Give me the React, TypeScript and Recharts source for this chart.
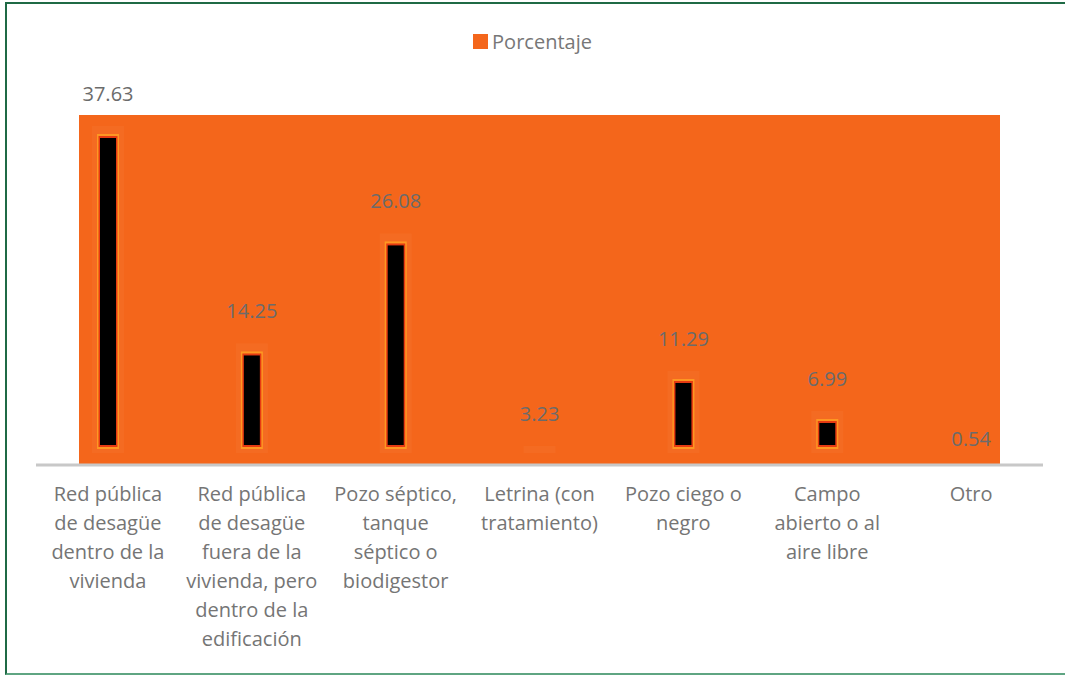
import React from 'react';
import { BarChart, Bar, XAxis, YAxis, LabelList, Legend } from 'recharts';

const categories = [
  'Red pública\nde desagüe\ndentro de la\nvivienda',
  'Red pública\nde desagüe\nfuera de la\nvivienda, pero\ndentro de la\nedificación',
  'Pozo séptico,\ntanque\nséptico o\nbiodigestor',
  'Letrina (con\ntratamiento)',
  'Pozo ciego o\nnegro',
  'Campo\nabierto o al\naire libre',
  'Otro',
];
const porcentaje = [37.63, 14.25, 26.08, 3.23, 11.29, 6.99, 0.54];

const data = categories.map((name, i) => ({ name, value: porcentaje[i] }));

const FONT = '"Open Sans", sans-serif';
const ORANGE = '#f4661b';

// bar drawn as a black core with a red/yellow halo, inset from the bar box
const GlowBar = (props: any) => {
  const { x, y, width, height } = props;
  const cx = x + width / 2;
  const bottom = y + height;
  const layer = (half: number, top: number, bot: number, fill: string, op = 1) => {
    const h = bottom - bot - (y + top);
    if (h <= 0) return null;
    return <rect x={cx - half} y={y + top} width={half * 2} height={h} fill={fill} fillOpacity={op} />;
  };
  return (
    <g>
      {layer(16, 11, 12, '#f7843f', 0.2)}
      {layer(11, 19, 16, '#ff9c22', 0.9)}
      {layer(9.5, 21, 18, '#e63a12')}
      {layer(8, 23, 20, '#000000')}
    </g>
  );
};

const CategoryTick = ({ x, y, payload }: any) => {
  const lines = String(payload.value).split('\n');
  return (
    <text x={x} y={y} textAnchor="middle" fill="#757575" fontSize={20} fontFamily={FONT}>
      {lines.map((l, i) => (
        <tspan key={i} x={x} dy={i === 0 ? 28 : 29}>{l}</tspan>
      ))}
    </text>
  );
};

const LegendContent = () => (
  <div style={{ display: 'flex', justifyContent: 'center', alignItems: 'center', fontFamily: FONT, fontSize: 20, color: '#777' }}>
    <span style={{ width: 15, height: 15, background: ORANGE, marginRight: 4, display: 'inline-block' }} />
    <span>Porcentaje</span>
  </div>
);

export default function App() {
  return (
    <div style={{ position: 'absolute', left: 0, top: 0, width: 1065, height: 675, background: '#fff', overflow: 'hidden' }}>
      <div style={{ position: 'absolute', left: 5, top: 2, width: 1080, height: 669, borderTop: '2px solid #1f6a45', borderLeft: '2px solid #1f6a45', borderBottom: '2px solid #5fa582' }} />
      <div style={{ position: 'absolute', left: 79, top: 115, width: 921, height: 350, background: ORANGE }} />
      <div style={{ position: 'absolute', left: 0, top: 0 }}>
        <BarChart width={1065} height={675} data={data} margin={{ top: 115, right: 22, bottom: 10, left: 36 }}>
          <XAxis
            dataKey="name"
            height={200}
            interval={0}
            tickLine={false}
            axisLine={{ stroke: '#c8c8c8', strokeWidth: 3 }}
            tick={<CategoryTick />}
          />
          <YAxis hide domain={[0, 37.63]} />
          <Legend
            verticalAlign="middle"
            align="center"
            content={<LegendContent />}
            wrapperStyle={{ top: 28, left: 0, width: 1065 }}
          />
          <Bar dataKey="value" name="Porcentaje" fill={ORANGE} barSize={32} shape={<GlowBar />} isAnimationActive={false}>
            <LabelList dataKey="value" position="top" offset={14} fill="#6b6b6b" fontSize={20} fontFamily={FONT} formatter={(v: any) => Number(v).toFixed(2)} />
          </Bar>
        </BarChart>
      </div>
    </div>
  );
}
